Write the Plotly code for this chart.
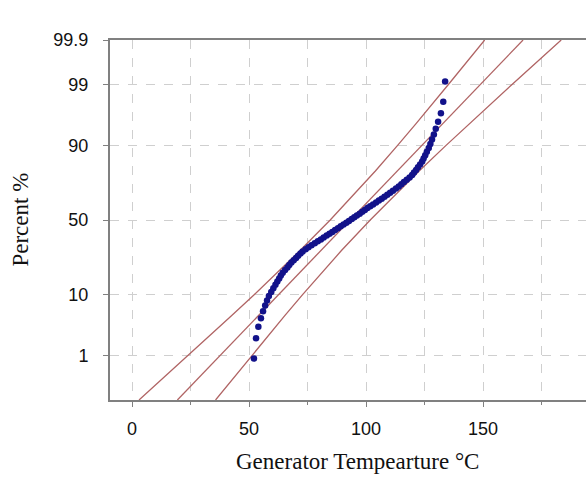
import plotly.graph_objects as go
from statistics import NormalDist

temps = [52.1, 53.0, 54.0, 55.1, 56.0, 56.9, 57.7, 58.5, 59.5, 60.4,
         61.3, 62.1, 62.9, 63.6, 64.4, 65.4, 66.4, 67.2, 68.1, 69.1,
         70.1, 71.0, 72.0, 72.9, 74.2, 75.4, 76.7, 78.1, 79.4, 80.7,
         81.9, 83.2, 84.4, 85.6, 86.8, 88.0, 89.2, 90.4, 91.6, 92.7,
         93.9, 95.0, 96.1, 97.3, 98.4, 99.5, 100.6, 101.8, 103.0, 104.3,
         105.5, 106.7, 107.9, 109.1, 110.3, 111.5, 112.8, 114.0, 115.1, 116.2,
         117.4, 118.6, 119.7, 120.5, 121.4, 122.2, 123.1, 124.0, 124.6, 125.3,
         126.0, 126.8, 127.5, 128.2, 129.0, 129.8, 130.8, 132.0, 133.0, 133.8]

# Fitted line and 95% CI bounds, read at these percent levels
line_pct = [0.1, 1, 5, 10, 20, 30, 50, 70, 80, 90, 95, 99, 99.9]
fit_x = [19.4, 37.6, 53.9, 62.6, 73.1, 80.7, 93.2, 105.7, 113.3, 123.8, 132.5, 148.8, 167.1]
ci_left_x = [3.0, 24.1, 42.5, 52.2, 63.7, 71.8, 84.7, 96.9, 104.0, 113.5, 121.2, 135.2, 150.7]
ci_right_x = [35.7, 51.2, 65.2, 72.9, 82.5, 89.5, 101.8, 114.6, 122.7, 134.2, 143.9, 162.4, 183.4]

y_tick_pct = [1, 10, 50, 90, 99, 99.9]
y_tick_text = ["1", "10", "50", "90", "99", "99.9"]
x_ticks = [0, 50, 100, 150]

nd = NormalDist()
def z(p):
    return nd.inv_cdf(p / 100.0)

n = len(temps)
pts_pct = [(i + 1 - 0.3) / (n + 0.4) * 100 for i in range(n)]

line_col = "#b06464"
fig = go.Figure()
for xs in (ci_left_x, fit_x, ci_right_x):
    fig.add_trace(go.Scatter(x=xs, y=[z(p) for p in line_pct], mode="lines",
                             line=dict(color=line_col, width=1.3), hoverinfo="skip"))
fig.add_trace(go.Scatter(x=temps, y=[z(p) for p in pts_pct], mode="markers",
                         marker=dict(color="#12128a", size=6.5)))

axcol = "#808080"
gridcol = "#cfcfcf"
fig.update_layout(
    width=586, height=478,
    margin=dict(l=110, r=0, t=40, b=78),
    plot_bgcolor="white", paper_bgcolor="white",
    showlegend=False,
    font=dict(family="Liberation Sans, Arial", size=18, color="#111111"),
)
fig.update_xaxes(
    range=[-9.4, 194], tickvals=x_ticks, ticks="outside", ticklen=5, tickcolor=axcol,
    showline=True, linecolor=axcol, linewidth=2, mirror=True, automargin=False,
    showgrid=True, gridcolor=gridcol, griddash="dash", gridwidth=1, zeroline=False,
    minor=dict(dtick=25, tick0=0, showgrid=True, gridcolor=gridcol, griddash="dash",
               ticks="outside", ticklen=3, tickcolor=axcol),
    ticklabelstandoff=6,
)
fig.update_yaxes(
    range=[z(0.1), z(99.9)], tickvals=[z(p) for p in y_tick_pct], ticktext=y_tick_text,
    ticks="outside", ticklen=5, tickcolor=axcol, automargin=False,
    showline=True, linecolor=axcol, linewidth=2, mirror=False,
    showgrid=True, gridcolor=gridcol, griddash="dash", gridwidth=1, zeroline=False,
    ticklabelstandoff=11,
)
fig.add_annotation(text="Generator Tempearture °C", xref="paper", yref="paper",
                   x=0.52, y=-0.17, xanchor="center", yanchor="middle", showarrow=False,
                   font=dict(family="Liberation Serif, Times New Roman", size=23, color="#111111"))
fig.add_annotation(text="Percent %", xref="paper", yref="paper",
                   x=-0.19, y=0.5, xanchor="center", yanchor="middle", showarrow=False, textangle=-90,
                   font=dict(family="Liberation Serif, Times New Roman", size=23, color="#111111"))
fig.write_html("out.html", config={"displayModeBar": False},
               post_script="document.body.style.margin='0';document.body.style.overflow='hidden';")
